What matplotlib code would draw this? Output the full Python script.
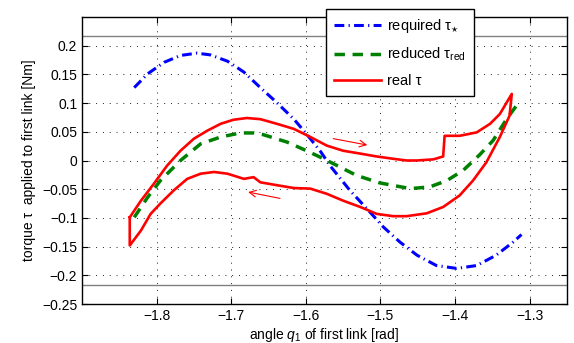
import matplotlib
matplotlib.use("Agg")
import matplotlib.pyplot as plt

plt.rcParams['font.family'] = ['Liberation Sans', 'DejaVu Sans']
plt.rcParams['mathtext.fontset'] = 'custom'
plt.rcParams['mathtext.rm'] = 'Liberation Sans'
plt.rcParams['mathtext.it'] = 'Liberation Sans:italic'
plt.rcParams['mathtext.bf'] = 'Liberation Sans:bold'

# required torque tau_*
req_x = [-1.830, -1.812, -1.790, -1.768, -1.746, -1.728, -1.705, -1.683, -1.661, -1.639,
         -1.616, -1.599, -1.581, -1.567, -1.541, -1.514, -1.496, -1.474, -1.451, -1.425,
         -1.398, -1.371, -1.345, -1.322, -1.311]
req_y = [0.127, 0.151, 0.171, 0.183, 0.187, 0.184, 0.173, 0.154, 0.127, 0.101,
         0.072, 0.046, 0.017, -0.010, -0.052, -0.090, -0.116, -0.142, -0.165, -0.183,
         -0.188, -0.183, -0.165, -0.142, -0.129]

# reduced torque tau_red
red_x = [-1.830, -1.812, -1.795, -1.768, -1.741, -1.714, -1.688, -1.670, -1.657, -1.625,
         -1.599, -1.581, -1.567, -1.532, -1.501, -1.460, -1.434, -1.411, -1.389, -1.367,
         -1.349, -1.331, -1.313]
red_y = [-0.099, -0.064, -0.035, 0.000, 0.029, 0.041, 0.048, 0.048, 0.045, 0.032,
         0.017, 0.006, -0.003, -0.026, -0.039, -0.049, -0.046, -0.035, -0.017, 0.010,
         0.035, 0.072, 0.104]

# real torque (closed loop: upper branch left->right, lower branch right->left)
real_x = [-1.836, -1.821, -1.804, -1.786, -1.768, -1.750, -1.732, -1.714, -1.697, -1.679,
          -1.661, -1.639, -1.616, -1.594, -1.572, -1.550, -1.527, -1.505, -1.483, -1.465,
          -1.451, -1.429, -1.416, -1.414, -1.394, -1.371, -1.353, -1.340, -1.324, -1.327,
          -1.340, -1.358, -1.376, -1.394, -1.416, -1.438, -1.465, -1.483, -1.505, -1.527,
          -1.550, -1.572, -1.594, -1.616, -1.639, -1.661, -1.670, -1.683, -1.705, -1.723,
          -1.741, -1.759, -1.777, -1.795, -1.808, -1.821, -1.836, -1.836]
real_y = [-0.099, -0.070, -0.041, -0.009, 0.017, 0.038, 0.052, 0.064, 0.071, 0.074,
          0.072, 0.064, 0.055, 0.041, 0.026, 0.017, 0.012, 0.007, 0.003, 0.000,
          0.000, 0.002, 0.007, 0.043, 0.043, 0.049, 0.064, 0.081, 0.116, 0.078,
          0.041, -0.003, -0.035, -0.061, -0.081, -0.092, -0.097, -0.097, -0.093, -0.081,
          -0.070, -0.058, -0.049, -0.048, -0.043, -0.038, -0.029, -0.032, -0.023, -0.020,
          -0.023, -0.032, -0.052, -0.075, -0.093, -0.122, -0.148, -0.099]

limit_val = 0.217
xticks = [-1.8, -1.7, -1.6, -1.5, -1.4, -1.3]
yticks = [-0.25, -0.2, -0.15, -0.1, -0.05, 0, 0.05, 0.1, 0.15, 0.2]
ytick_labels = ['\u22120.25', '\u22120.2', '\u22120.15', '\u22120.1', '\u22120.05', '0',
                '0.05', '0.1', '0.15', '0.2']
xtick_labels = ['\u22121.8', '\u22121.7', '\u22121.6', '\u22121.5', '\u22121.4', '\u22121.3']

fig = plt.figure(figsize=(5.74, 3.43), dpi=100)
ax = fig.add_axes([82/574, 1 - 304/343, 485/574, 287/343])

ax.axhline(limit_val, color='#808080', lw=1.0, zorder=1)
ax.axhline(-limit_val, color='#808080', lw=1.0, zorder=1)

l1, = ax.plot(req_x, req_y, color='#0000ff', lw=2.2, linestyle=(0, (3.2, 1.4, 0.4, 1.4)),
              label='required \u03c4$_{\u22c6}$')
l2, = ax.plot(red_x, red_y, color='#008000', lw=2.5, linestyle=(0, (3, 2.2)),
              label='reduced \u03c4$_{\\mathrm{red}}$')
l3, = ax.plot(real_x, real_y, color='#ff0000', lw=1.9, label='real \u03c4')

ax.annotate('', xy=(-1.514, 0.026), xytext=(-1.567, 0.039),
            arrowprops=dict(arrowstyle='->', color='#ff0000', lw=0.8, mutation_scale=12))
ax.annotate('', xy=(-1.681, -0.054), xytext=(-1.631, -0.067),
            arrowprops=dict(arrowstyle='->', color='#ff0000', lw=0.8, mutation_scale=12))

ax.set_xlim(-1.9, -1.25)
ax.set_ylim(-0.25, 0.25)
ax.set_xticks(xticks)
ax.set_xticklabels(xtick_labels)
ax.set_yticks(yticks)
ax.set_yticklabels(ytick_labels)
ax.tick_params(direction='in', top=True, right=True, labelsize=10, length=4, width=0.8)
ax.grid(True, linestyle=(0, (1, 6)), color='#202020', lw=0.7)
for s in ax.spines.values():
    s.set_linewidth(1.0)

ax.set_xlabel('angle $q_1$ of first link [rad]', fontsize=10, labelpad=2)
ax.set_ylabel('torque \u03c4  applied to first link [Nm]', fontsize=10, labelpad=4)

leg = fig.legend(handles=[l1, l2, l3], loc='upper left',
                 bbox_to_anchor=(326/574, 1 - 9/343), bbox_transform=fig.transFigure,
                 borderaxespad=0.0,
                 fontsize=10.5, frameon=True, fancybox=False, framealpha=1,
                 edgecolor='black', handlelength=3.2, labelspacing=0.75,
                 borderpad=0.55, handletextpad=0.4)
leg.get_frame().set_linewidth(1.0)

fig.savefig('out.png', dpi=100)
